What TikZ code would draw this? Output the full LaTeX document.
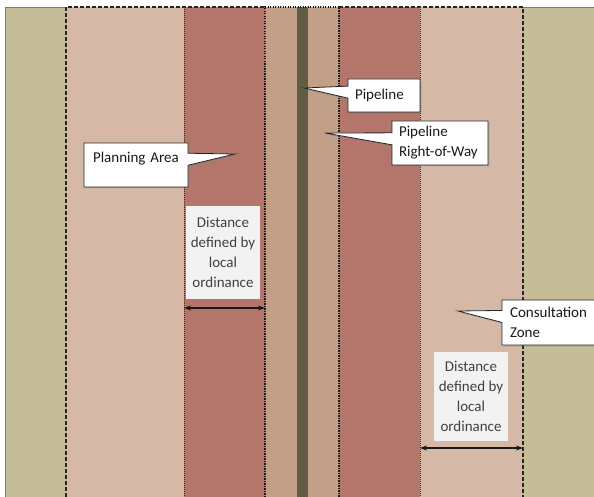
\documentclass[tikz,border=0pt]{standalone}
\usepackage{fontspec}
\setmainfont{Carlito}
\usetikzlibrary{shapes.callouts,shadows,arrows.meta}
\definecolor{zoneolive}{HTML}{C4BD97}
\definecolor{zonepink}{HTML}{D5B9A6}
\definecolor{zonered}{HTML}{B4766A}
\definecolor{zonetan}{HTML}{C29F87}
\definecolor{pipecol}{HTML}{5F5D46}
\definecolor{frameblue}{HTML}{5B7FB5}
\definecolor{notegray}{HTML}{F2F2F2}
\begin{document}
\begin{tikzpicture}[x=1pt,y=-1pt,
    note/.style={rectangle callout, draw=black!85, fill=white, line width=0.8pt,
      callout pointer width=12pt, align=left, inner sep=0pt,
      font=\fontsize{15}{20}\selectfont, text=black!90,
      drop shadow={shadow xshift=1.5pt, shadow yshift=-1.5pt, opacity=0.35}},
    dist/.style={fill=notegray, align=center, inner sep=0pt, minimum width=74pt,
      font=\fontsize{15}{20}\selectfont, text=black!75},
    outerline/.style={black!85, line width=1.1pt, dash pattern=on 4pt off 2pt},
    innerline/.style={black!80, line width=0.8pt, dash pattern=on 1pt off 1pt},
    rowline/.style={black!90, line width=1.7pt, dash pattern=on 1.4pt off 1.1pt},
    span/.style={{Stealth[length=7pt,width=5pt]}-{Stealth[length=7pt,width=5pt]}, line width=1.3pt, black!90}]
  \useasboundingbox (0,0) rectangle (594,497);
  \clip (0,0) rectangle (594,497);
  \fill[white] (0,0) rectangle (594,497);
  \fill[zoneolive] (5,7) rectangle (66,497);
  \fill[zonepink] (66,7) rectangle (184,497);
  \fill[zonered] (184,7) rectangle (265,497);
  \fill[zonetan] (265,7) rectangle (297,497);
  \fill[pipecol] (297,7) rectangle (308,497);
  \fill[zonetan] (308,7) rectangle (339,497);
  \fill[zonered] (339,7) rectangle (420,497);
  \fill[zonepink] (420,7) rectangle (523,497);
  \fill[zoneolive] (523,7) rectangle (594,497);
  \draw[frameblue, line width=0.8pt] (5,497) -- (5,7) -- (66,7);
  \draw[frameblue, line width=0.8pt] (523,7) -- (594,7);
  \draw[outerline] (66,497) -- (66,7) -- (265,7);
  \draw[outerline] (339,7) -- (523,7) -- (523,497);
  \draw[innerline] (184,7) -- (184,497);
  \draw[innerline] (420,7) -- (420,497);
  \draw[rowline] (265,497) -- (265,7) -- (339,7) -- (339,497);
  \node[dist, minimum height=93pt] (dist-l) at (223,252.5) {Distance\\defined by\\local\\ordinance};
  \node[dist, minimum height=89pt] (dist-r) at (471,396.5) {Distance\\defined by\\local\\ordinance};
  \coordinate (pa-edge) at (184,308);
  \coordinate (row-edge) at (265,308);
  \coordinate (cz-in) at (420,448);
  \coordinate (cz-out) at (523,448);
  \draw[span] (pa-edge) -- (row-edge);
  \draw[span] (cz-in) -- (cz-out);
  \coordinate (pa-tip) at (235,154);
  \coordinate (pipe-tip) at (304,88);
  \coordinate (row-tip) at (325,133);
  \coordinate (cz-tip) at (458,311);
  \node[note, callout absolute pointer={(pa-tip)}, minimum width=104pt, minimum height=44pt,
    text width=86pt, text depth=16pt] (pa) at (136,165) {Planning Area};
  \node[note, callout absolute pointer={(pipe-tip)}, minimum width=72pt, minimum height=33pt,
    text width=58pt] (pipe) at (384,95.5) {Pipeline};
  \node[note, callout absolute pointer={(row-tip)}, minimum width=96pt, minimum height=44pt,
    text width=82pt] (row) at (440,143) {Pipeline\\Right-of-Way};
  \node[note, callout absolute pointer={(cz-tip)}, minimum width=98pt, minimum height=45pt,
    text width=82pt] (cz) at (551,322.5) {Consultation\\Zone};
\end{tikzpicture}
\end{document}
